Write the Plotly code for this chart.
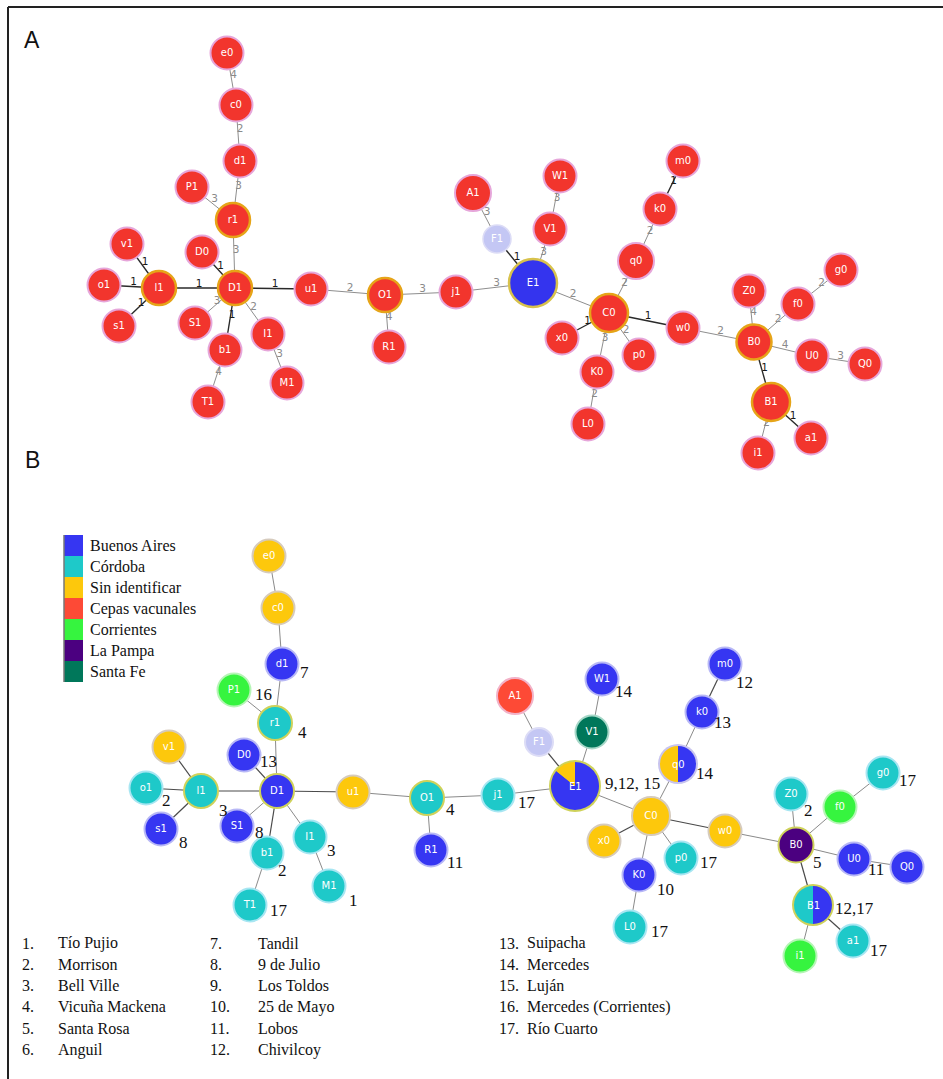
import plotly.graph_objects as go

FIG_W, FIG_H = 943, 1079

# ---------------------------------------------------------------- data
node_ids = ["e0", "c0", "d1", "P1", "r1", "v1", "D0", "o1", "l1", "D1", "u1",
            "O1", "j1", "s1", "S1", "I1", "b1", "M1", "T1", "R1", "A1", "F1",
            "W1", "V1", "E1", "m0", "k0", "q0", "C0", "x0", "p0", "K0", "L0",
            "w0", "Z0", "g0", "f0", "B0", "U0", "Q0", "B1", "a1", "i1"]

# minimum spanning tree: (source, target, allelic distance)
edge_src = ["e0", "c0", "d1", "P1", "r1", "v1", "o1", "s1", "l1", "D0", "D1",
            "S1", "b1", "I1", "I1", "b1", "u1", "O1", "O1", "j1", "A1", "F1",
            "W1", "V1", "E1", "C0", "q0", "k0", "C0", "C0", "C0", "K0", "C0",
            "w0", "B0", "B0", "f0", "B0", "U0", "B0", "B1", "B1"]
edge_dst = ["c0", "d1", "r1", "r1", "D1", "l1", "l1", "l1", "D1", "D1", "u1",
            "D1", "D1", "D1", "M1", "T1", "O1", "j1", "R1", "E1", "F1", "E1",
            "V1", "E1", "C0", "q0", "k0", "m0", "x0", "K0", "p0", "L0", "w0",
            "B0", "Z0", "f0", "g0", "U0", "Q0", "B1", "a1", "i1"]
edge_weight = [4, 2, 3, 3, 3, 1, 1, 1, 1, 1, 1,
               3, 1, 2, 3, 4, 2, 3, 4, 3, 3, 1,
               3, 3, 2, 2, 2, 1, 1, 3, 2, 2, 1,
               2, 4, 2, 2, 4, 3, 1, 1, 2]

# panel A grouping
panel_a_group = {"E1": "blue", "F1": "none"}  # all other nodes: "vaccine"

# panel B origin of the isolates in each node (origin, number of isolates)
origin_names = ["Buenos Aires", "Córdoba", "Sin identificar", "Cepas vacunales",
                "Corrientes", "La Pampa", "Santa Fe"]
node_origin = {
    "e0": [("Sin identificar", 1)], "c0": [("Sin identificar", 1)],
    "d1": [("Buenos Aires", 1)], "P1": [("Corrientes", 1)],
    "r1": [("Córdoba", 1)], "v1": [("Sin identificar", 1)],
    "D0": [("Buenos Aires", 1)], "o1": [("Córdoba", 1)],
    "l1": [("Córdoba", 1)], "D1": [("Buenos Aires", 1)],
    "u1": [("Sin identificar", 1)], "O1": [("Córdoba", 1)],
    "j1": [("Córdoba", 1)], "s1": [("Buenos Aires", 1)],
    "S1": [("Buenos Aires", 1)], "I1": [("Córdoba", 1)],
    "b1": [("Córdoba", 1)], "M1": [("Córdoba", 1)],
    "T1": [("Córdoba", 1)], "R1": [("Buenos Aires", 1)],
    "A1": [("Cepas vacunales", 1)], "F1": [],
    "W1": [("Buenos Aires", 1)], "V1": [("Santa Fe", 1)],
    "E1": [("Sin identificar", 1), ("Buenos Aires", 6)],
    "m0": [("Buenos Aires", 1)], "k0": [("Buenos Aires", 1)],
    "q0": [("Sin identificar", 1), ("Buenos Aires", 1)],
    "C0": [("Sin identificar", 1)], "x0": [("Sin identificar", 1)],
    "p0": [("Córdoba", 1)], "K0": [("Buenos Aires", 1)],
    "L0": [("Córdoba", 1)], "w0": [("Sin identificar", 1)],
    "Z0": [("Córdoba", 1)], "g0": [("Córdoba", 1)],
    "f0": [("Corrientes", 1)], "B0": [("La Pampa", 1)],
    "U0": [("Buenos Aires", 1)], "Q0": [("Buenos Aires", 1)],
    "B1": [("Córdoba", 1), ("Buenos Aires", 1)],
    "a1": [("Córdoba", 1)], "i1": [("Corrientes", 1)],
}

# locality codes per node (panel B)
node_locality = {
    "d1": "7", "P1": "16", "r1": "4", "D0": "13", "o1": "2", "l1": "3",
    "s1": "8", "S1": "8", "I1": "3", "b1": "2", "M1": "1", "T1": "17",
    "O1": "4", "R1": "11", "j1": "17", "W1": "14", "m0": "12", "k0": "13",
    "q0": "14", "E1": "9,12, 15", "p0": "17", "K0": "10", "L0": "17",
    "Z0": "2", "g0": "17", "B0": "5", "U0": "11", "B1": "12,17", "a1": "17",
}

localities = ["Tío Pujio", "Morrison", "Bell Ville", "Vicuña Mackena",
              "Santa Rosa", "Anguil", "Tandil", "9 de Julio", "Los Toldos",
              "25 de Mayo", "Lobos", "Chivilcoy", "Suipacha", "Mercedes",
              "Luján", "Mercedes (Corrientes)", "Río Cuarto"]

# ---------------------------------------------------------------- layout
# tree layout (pixel coordinates of panel A); panel B reuses it shifted
node_pos = {
    "e0": (227, 53), "c0": (236, 105), "d1": (240, 161), "P1": (192, 187),
    "r1": (233, 220), "v1": (127, 244), "D0": (202, 252), "o1": (104, 285),
    "l1": (159, 288), "D1": (235, 288), "u1": (311, 289), "O1": (385, 295),
    "j1": (456, 292), "s1": (119, 326), "S1": (195, 323), "I1": (268, 334),
    "b1": (225, 350), "M1": (287, 383), "T1": (208, 402), "R1": (389, 347),
    "A1": (473, 193), "F1": (497, 239), "W1": (560, 176), "V1": (550, 229),
    "E1": (533, 283), "m0": (683, 161), "k0": (660, 209), "q0": (636, 261),
    "C0": (609, 313), "x0": (562, 338), "p0": (639, 355), "K0": (597, 372),
    "L0": (588, 424), "w0": (683, 328), "Z0": (749, 291), "g0": (841, 270),
    "f0": (798, 304), "B0": (754, 342), "U0": (812, 356), "Q0": (865, 364),
    "B1": (771, 402), "a1": (811, 438), "i1": (758, 453),
}
PANEL_B_SHIFT = (42, 503)

node_diam = {"E1": 48, "C0": 38, "B1": 38, "q0": 36, "B0": 35, "A1": 36,
             "F1": 28, "r1": 34, "D1": 34, "l1": 34, "O1": 34}
DEFAULT_DIAM = 33
hubs_a = {"r1", "l1", "D1", "O1", "E1", "C0", "B0", "B1"}
hubs_b = {"r1", "l1", "O1", "E1", "B0", "B1", "D1"}

# locality label offsets from node centre (left edge, vertical middle)
label_off = {
    "d1": (16, 8), "P1": (19, 4), "r1": (21, 9), "D0": (14, 6), "o1": (14, 12),
    "l1": (16, 19), "s1": (16, 13), "S1": (16, 6), "I1": (15, 13),
    "b1": (9, 17), "M1": (18, 14), "T1": (18, 5), "O1": (17, 11),
    "R1": (14, 12), "j1": (18, 7), "W1": (11, 12), "m0": (9, 18),
    "k0": (10, 10), "q0": (16, 9), "E1": (28, -3), "p0": (17, 4),
    "K0": (16, 14), "L0": (19, 4), "Z0": (11, 16), "g0": (14, 7),
    "B0": (15, 17), "U0": (12, 10), "B1": (20, 3), "a1": (15, 9),
}

# ---------------------------------------------------------------- style
RED_A = "#f2352d"
COLORS_A = {"vaccine": RED_A, "blue": "#3434ee", "none": "#c4c7f4"}
ORIGIN_COLORS = {
    "Buenos Aires": "#3636f2", "Córdoba": "#1ec9c9",
    "Sin identificar": "#fdc80c", "Cepas vacunales": "#fd4a36",
    "Corrientes": "#36f43f", "La Pampa": "#4b0080", "Santa Fe": "#00775a",
}
UNASSIGNED_B = "#c4c7f4"
HALO_B = {
    "Buenos Aires": "#b8b8f6", "Córdoba": "#a8e6f2", "Sin identificar": "#d6cbbd",
    "Cepas vacunales": "#f2b2c8", "Corrientes": "#b6f5b6", "La Pampa": "#b8a8d8",
    "Santa Fe": "#a6d8c8",
}
SANS = "DejaVu Sans"
SERIF = "Liberation Serif"


def px(x):
    return x / FIG_W


def py(y):
    return 1 - y / FIG_H


def diam(n):
    return node_diam.get(n, DEFAULT_DIAM)


fig = go.Figure()


def add_edges(shift, strong_color, weak_color, strong_w, weak_w):
    dx, dy = shift
    for strong in (False, True):
        xs, ys = [], []
        for s, t, w in zip(edge_src, edge_dst, edge_weight):
            if (w == 1) != strong:
                continue
            x0, y0 = node_pos[s]
            x1, y1 = node_pos[t]
            xs += [x0 + dx, x1 + dx, None]
            ys += [y0 + dy, y1 + dy, None]
        fig.add_trace(go.Scatter(
            x=xs, y=ys, mode="lines", hoverinfo="skip", showlegend=False,
            line=dict(color=strong_color if strong else weak_color,
                      width=strong_w if strong else weak_w)))


# ----- panel A
add_edges((0, 0), "#2a2a2a", "#8e8e8e", 1.4, 1.0)

for strong in (False, True):
    tx, ty, tt = [], [], []
    for s, t, w in zip(edge_src, edge_dst, edge_weight):
        if (w == 1) != strong:
            continue
        x0, y0 = node_pos[s]
        x1, y1 = node_pos[t]
        tx.append((x0 + x1) / 2 + 2)
        ty.append((y0 + y1) / 2 - 4)
        tt.append(str(w))
    fig.add_trace(go.Scatter(
        x=tx, y=ty, text=tt, mode="text", hoverinfo="skip", showlegend=False,
        textfont=dict(family=SANS, size=10.5,
                      color="#1a1a1a" if strong else "#8a8a8a")))

a_fill, a_line, a_x, a_y, a_size, a_lw = [], [], [], [], [], []
for n in node_ids:
    grp = panel_a_group.get(n, "vaccine")
    a_fill.append(COLORS_A[grp])
    if n in hubs_a:
        a_line.append("#e6a418" if grp == "vaccine" else "#d8c24c")
        a_lw.append(2.5)
    elif grp == "none":
        a_line.append("#dcdcf6")
        a_lw.append(1.5)
    else:
        a_line.append("#e6a6da")
        a_lw.append(2)
    x, y = node_pos[n]
    a_x.append(x)
    a_y.append(y)
    a_size.append(diam(n))
fig.add_trace(go.Scatter(
    x=a_x, y=a_y, text=node_ids, mode="markers+text", hoverinfo="skip",
    showlegend=False, textposition="middle center",
    textfont=dict(family=SANS, size=10, color="white"),
    marker=dict(size=a_size, color=a_fill, line=dict(color=a_line, width=a_lw),
                opacity=1)))

# ----- panel B
add_edges(PANEL_B_SHIFT, "#4a4a4a", "#8a8a8a", 1.2, 1.0)

bx0, by0 = PANEL_B_SHIFT
b_fill, b_line, b_x, b_y, b_size, b_text = [], [], [], [], [], []
pie_nodes = []
for n in node_ids:
    parts = node_origin[n]
    x, y = node_pos[n]
    x += bx0
    y += by0
    d = diam(n)
    if len(parts) > 1:
        pie_nodes.append(n)
        # halo disc under the pie
        b_fill.append("#cfd25a" if n in hubs_b else "#c8c4ee")
        b_line.append("rgba(0,0,0,0)")
        b_size.append(d + 4)
        b_text.append("")
    else:
        fill = ORIGIN_COLORS[parts[0][0]] if parts else UNASSIGNED_B
        halo = HALO_B[parts[0][0]] if parts else "#dcdcf6"
        if n in hubs_b:
            halo = "#cfd25a"
        b_fill.append(fill)
        b_line.append(halo)
        b_size.append(d)
        b_text.append(n)
    b_x.append(x)
    b_y.append(y)
fig.add_trace(go.Scatter(
    x=b_x, y=b_y, text=b_text, mode="markers+text", hoverinfo="skip",
    showlegend=False, textposition="middle center",
    textfont=dict(family=SANS, size=10, color="white"),
    marker=dict(size=b_size, color=b_fill, line=dict(color=b_line, width=2),
                opacity=1)))

annotations = []
for n in pie_nodes:
    # first listed origin sits just left of 12 o'clock, the rest follow it
    parts = node_origin[n][::-1]
    x, y = node_pos[n]
    x += bx0
    y += by0
    r = diam(n) / 2
    fig.add_trace(go.Pie(
        labels=[p[0] for p in parts], values=[p[1] for p in parts],
        marker=dict(colors=[ORIGIN_COLORS[p[0]] for p in parts],
                    line=dict(width=0)),
        sort=False, direction="clockwise", rotation=0,
        textinfo="none", hoverinfo="skip", showlegend=False,
        domain=dict(x=[px(x - r), px(x + r)], y=[py(y + r), py(y - r)])))
    annotations.append(dict(x=x, y=y, xref="x", yref="y", text=n,
                            showarrow=False,
                            font=dict(family=SANS, size=10, color="white")))

# locality numbers
for n, lab in node_locality.items():
    x, y = node_pos[n]
    ox, oy = label_off[n]
    annotations.append(dict(
        x=x + bx0 + ox, y=y + by0 + oy, xref="x", yref="y", text=lab,
        showarrow=False, xanchor="left", yanchor="middle",
        font=dict(family=SERIF, size=17, color="#111")))

# legend of origins
shapes = []
LEG_X, LEG_Y, LEG_W, LEG_H = 64, 535, 19, 21
for i, name in enumerate(origin_names):
    shapes.append(dict(type="rect", xref="x", yref="y", x0=LEG_X, x1=LEG_X + LEG_W,
                       y0=LEG_Y + i * LEG_H, y1=LEG_Y + (i + 1) * LEG_H,
                       fillcolor=ORIGIN_COLORS[name], line=dict(width=0),
                       layer="above"))
    annotations.append(dict(
        x=LEG_X + LEG_W + 5, y=LEG_Y + (i + 0.5) * LEG_H, xref="x", yref="y",
        text=name, showarrow=False, xanchor="left", yanchor="middle",
        font=dict(family=SERIF, size=16, color="#111")))
shapes.append(dict(type="line", xref="x", yref="y", x0=LEG_X, x1=LEG_X,
                   y0=LEG_Y, y1=LEG_Y + len(origin_names) * LEG_H,
                   line=dict(color="#777", width=1.5), layer="above"))

# locality key
COL_NUM_X = [20, 208, 497]
COL_NAME_X = [56, 256, 525]
ROW_Y0, ROW_DY = 943, 21.3
for i, name in enumerate(localities):
    col, row = divmod(i, 6)
    yy = ROW_Y0 + row * ROW_DY
    annotations.append(dict(
        x=COL_NUM_X[col], y=yy, xref="x", yref="y", text=f"{i + 1}.",
        showarrow=False, xanchor="left", yanchor="middle",
        font=dict(family=SERIF, size=16, color="#111")))
    annotations.append(dict(
        x=COL_NAME_X[col], y=yy, xref="x", yref="y", text=name,
        showarrow=False, xanchor="left", yanchor="middle",
        font=dict(family=SERIF, size=16, color="#111")))

# panel letters
annotations.append(dict(x=22, y=40, xref="x", yref="y", text="A", showarrow=False,
                        xanchor="left", yanchor="middle",
                        font=dict(family="Liberation Sans", size=23, color="#111")))
annotations.append(dict(x=23, y=460, xref="x", yref="y", text="B", showarrow=False,
                        xanchor="left", yanchor="middle",
                        font=dict(family="Liberation Sans Narrow, Liberation Sans",
                                  size=23, color="#111")))

# frame (top and left rules)
shapes.append(dict(type="line", xref="x", yref="y", x0=8, x1=FIG_W, y0=7, y1=7,
                   line=dict(color="#222", width=2), layer="above"))
shapes.append(dict(type="line", xref="x", yref="y", x0=8, x1=8, y0=7, y1=FIG_H,
                   line=dict(color="#222", width=2), layer="above"))

fig.update_layout(
    width=FIG_W, height=FIG_H, margin=dict(l=0, r=0, t=0, b=0, pad=0),
    paper_bgcolor="white", plot_bgcolor="white", showlegend=False,
    xaxis=dict(range=[0, FIG_W], visible=False, fixedrange=True, domain=[0, 1]),
    yaxis=dict(range=[FIG_H, 0], visible=False, fixedrange=True, domain=[0, 1]),
    shapes=shapes, annotations=annotations,
)

fig.write_html("out.html")
